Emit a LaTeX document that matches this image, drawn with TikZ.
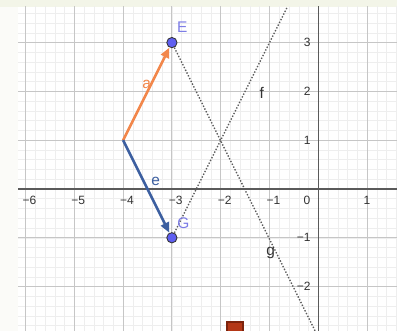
\documentclass[tikz,border=0pt]{standalone}
\usepackage{fontspec}
\setmainfont{Liberation Sans}
\usetikzlibrary{arrows.meta}
\definecolor{topband}{RGB}{243,245,232}
\definecolor{leftband}{RGB}{251,251,248}
\definecolor{minorgrid}{RGB}{238,238,238}
\definecolor{majorgrid}{RGB}{198,198,198}
\definecolor{axiscol}{RGB}{90,90,90}
\definecolor{vecA}{RGB}{242,135,75}
\definecolor{vecE}{RGB}{60,95,160}
\definecolor{ptfill}{RGB}{95,95,240}
\definecolor{ptlabel}{RGB}{125,125,230}
\definecolor{raycol}{RGB}{90,90,90}
\definecolor{sqfill}{RGB}{180,55,22}
\definecolor{sqdraw}{RGB}{125,35,12}
\definecolor{numcol}{RGB}{50,50,50}
\pgfdeclarelayer{front}
\pgfsetlayers{main,front}
\begin{document}
\begin{tikzpicture}[
  pt/.style={circle, fill=ptfill, draw=black!80, line width=0.5pt, inner sep=0pt, minimum size=0.21cm},
  vec/.style={line width=1.5pt, -{Triangle[length=6pt,width=5pt]}},
  ray/.style={raycol, line width=0.8pt, dash pattern=on 0.8pt off 1.0pt},
  num/.style={font=\fontsize{7}{8}\selectfont, text=numcol, inner sep=0pt},
  lbl/.style={font=\fontsize{9}{10}\selectfont, inner sep=0pt},
]
\useasboundingbox (-6.523,-2.910) rectangle (1.613,3.873);
\fill[leftband] (-6.523,-2.910) rectangle (1.613,3.873);
\fill[topband] (-6.523,3.730) rectangle (1.613,3.873);
\fill[white] (-6.154,-2.910) rectangle (1.613,3.730);
\begin{pgfonlayer}{front}
\node[pt] (E) at (-3,3) {};
\node[pt] (G) at (-3,-1) {};
\end{pgfonlayer}
\coordinate (O) at (-4,1);
\coordinate (ftop) at (-0.635,3.73);
\coordinate (gend) at (-0.045,-2.95);
\begin{scope}
\clip (-6.154,-2.910) rectangle (1.613,3.730);
\draw[minorgrid, line width=0.3pt, step=0.2] (-6.4,-3.2) grid (2,4);
\draw[majorgrid, line width=0.5pt, step=1] (-7,-3) grid (2,4);
\draw[axiscol, line width=0.9pt] (-6.2,0) -- (1.7,0);
\draw[axiscol, line width=0.9pt] (0,-3) -- (0,3.8);
\draw[ray] (G) -- (ftop);
\draw[ray] (E) -- (gend);
\draw[vec, vecA] (O) -- (E);
\draw[vec, vecE] (O) -- (G);
\filldraw[fill=sqfill, draw=sqdraw, line width=1pt] (-1.877,-2.732) rectangle (-1.537,-3.1);
\end{scope}
% axis numbers
\node[num] (xm6) at (-5.92,-0.225) {−6};
\node[num] (xm5) at (-4.92,-0.225) {−5};
\node[num] (xm4) at (-3.92,-0.225) {−4};
\node[num] (xm3) at (-2.92,-0.225) {−3};
\node[num] (xm2) at (-1.92,-0.225) {−2};
\node[num] (xm1) at (-0.92,-0.225) {−1};
\node[num] (x0) at (-0.23,-0.225) {0};
\node[num] (x1) at (1.0,-0.225) {1};
\node[num, anchor=east] (y3) at (-0.15,3) {3};
\node[num, anchor=east] (y2) at (-0.15,2) {2};
\node[num, anchor=east] (y1) at (-0.15,1) {1};
\node[num, anchor=east] (ym1) at (-0.15,-1) {−1};
\node[num, anchor=east] (ym2) at (-0.15,-2) {−2};
% labels
\node[lbl, text=ptlabel] (Elbl) at (-2.787,3.314) {E};
\node[lbl, text=ptlabel] (Glbl) at (-2.766,-0.703) {G};
\node[lbl, text=vecA] (albl) at (-3.516,2.152) {a};
\node[lbl, text=vecE] (elbl) at (-3.332,0.150) {e};
\node[lbl, text=black!80] (flbl) at (-1.160,1.961) {f};
\node[lbl, text=black!80] (glbl) at (-0.975,-1.305) {g};
\end{tikzpicture}
\end{document}
